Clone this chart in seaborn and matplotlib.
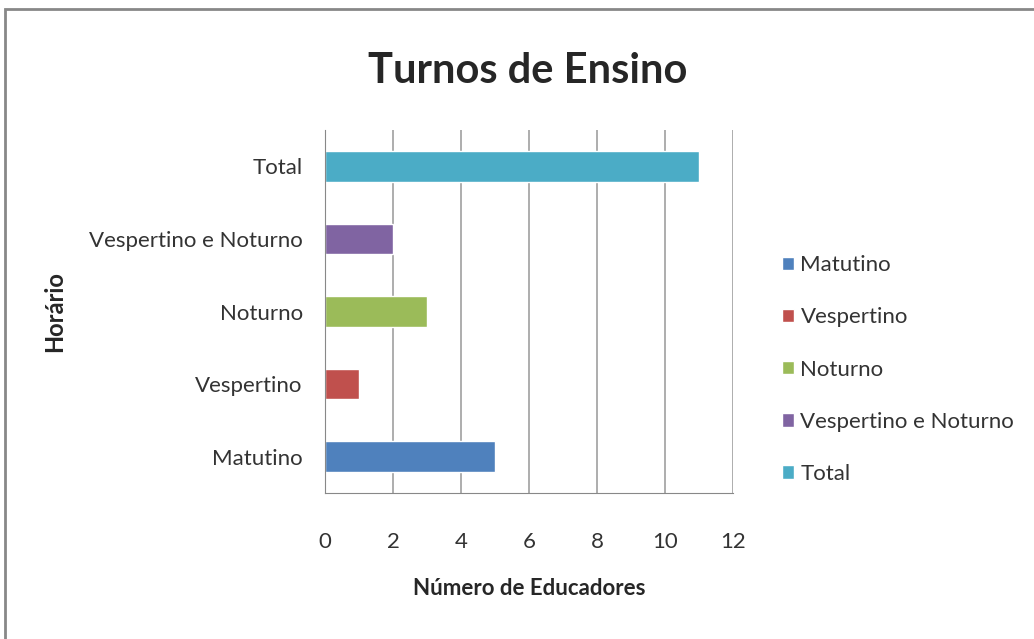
import matplotlib
matplotlib.use("Agg")
import matplotlib.pyplot as plt
import matplotlib.patches as mpatches
import seaborn as sns
import numpy as np

horarios = ["Matutino", "Vespertino", "Noturno", "Vespertino e Noturno", "Total"]
educadores = [5, 1, 3, 2, 11]
cores = ["#4F81BD", "#C0504D", "#9BBB59", "#8064A2", "#4BACC6"]
xticks = [0, 2, 4, 6, 8, 10, 12]

sns.set_style("white")
plt.rcParams["font.family"] = ["Lato", "DejaVu Sans"]

f = plt.figure(figsize=(10.34, 6.39), dpi=100)
ax = f.add_axes([0.3143, 0.2285, 0.3946, 0.568])

sns.barplot(x=educadores, y=horarios, hue=horarios, order=horarios[::-1],
            hue_order=horarios, palette=cores, width=0.42, dodge=False,
            saturation=1, orient="h", ax=ax, legend=True)

ax.set_xlim(0, 12)
ax.set_ylim(4.5, -0.5)
ax.set_xticks(xticks)
ax.set_xticklabels([str(t) for t in xticks])
ax.set_yticks(np.arange(-0.5, 5, 1), minor=True)
ax.tick_params(axis="y", which="major", length=0, labelsize=16, colors="#333333", pad=16)
ax.tick_params(axis="y", which="minor", length=6, color="#888888", width=1)
ax.tick_params(axis="x", length=6, color="#888888", labelsize=16, labelcolor="#333333", pad=22)
ax.xaxis.grid(True, color="#a0a0a0", lw=1.2)
ax.set_axisbelow(True)
for s in ["top", "right"]:
    ax.spines[s].set_visible(False)
for s in ["left", "bottom"]:
    ax.spines[s].set_color("#888888")

ax.set_xlabel("Número de Educadores", fontsize=16, fontweight="bold")
ax.xaxis.set_label_coords(0.5, -0.235)
ax.set_ylabel("Horário", fontsize=17, fontweight="bold")
ax.yaxis.set_label_coords(-0.635, 0.5)

leg = ax.legend(loc="center left", bbox_to_anchor=(1.07, 0.34), frameon=False,
                fontsize=16, handlelength=0.55, handleheight=0.55, handletextpad=0.3,
                labelspacing=1.45)
for t in leg.get_texts():
    t.set_color("#333333")

f.suptitle("Turnos de Ensino", x=0.51, y=0.918, fontsize=30, fontweight="bold")

f.patches.append(mpatches.Rectangle((0.005, -0.05), 1.1, 1.036, transform=f.transFigure,
                                    fill=False, edgecolor="#888888", lw=2))

plt.savefig("out.png", dpi=100)
